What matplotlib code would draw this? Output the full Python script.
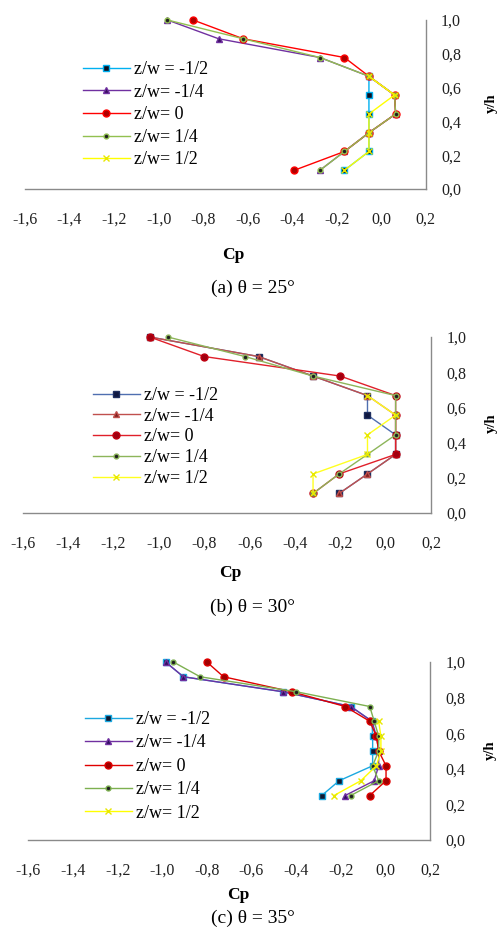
import numpy as np
import matplotlib
matplotlib.use("Agg")
import matplotlib.pyplot as plt

plt.rcParams['font.family'] = ['Liberation Serif', 'DejaVu Serif']

nan = np.nan
labels = ["z/w = -1/2", "z/w= -1/4", "z/w= 0", "z/w= 1/4", "z/w= 1/2"]
xticks = [-1.6, -1.4, -1.2, -1.0, -0.8, -0.6, -0.4, -0.2, 0.0, 0.2]
yticks = [0.0, 0.2, 0.4, 0.6, 0.8, 1.0]

# y/h levels
levels_ab = [1.0, 0.889, 0.778, 0.667, 0.556, 0.444, 0.333, 0.222, 0.111]
levels_c = [1.0, 0.917, 0.833, 0.75, 0.667, 0.583, 0.5, 0.417, 0.333, 0.25]

# (a) theta = 25
a_m12 = [nan, nan, nan, -0.055, -0.055, -0.055, -0.055, -0.055, -0.165]
a_m14 = [-0.96, -0.73, -0.275, -0.055, 0.06, 0.065, -0.055, -0.165, -0.275]
a_0 = [-0.845, -0.62, -0.165, -0.055, 0.06, 0.065, -0.055, -0.165, -0.39]
a_14 = [-0.96, -0.62, -0.275, -0.055, 0.06, 0.065, -0.055, -0.165, -0.275]
a_12 = [nan, nan, nan, -0.055, 0.06, -0.055, -0.055, -0.055, -0.165]

# (b) theta = 30
b_m12 = [-1.04, -0.56, -0.32, -0.08, -0.08, 0.044, 0.044, -0.08, -0.205]
b_m14 = [-1.04, -0.56, -0.32, -0.08, 0.044, 0.044, 0.044, -0.08, -0.205]
b_0 = [-1.04, -0.80, -0.20, 0.044, 0.044, 0.044, 0.044, -0.205, -0.32]
b_14 = [-0.96, -0.62, -0.32, 0.044, 0.044, 0.044, -0.08, -0.205, -0.32]
b_12 = [nan, nan, nan, -0.08, 0.044, -0.08, -0.08, -0.32, -0.32]

# (c) theta = 35
c_m12 = [-0.985, -0.905, -0.46, -0.155, -0.06, -0.057, -0.057, -0.057, -0.207, -0.285]
c_m14 = [-0.985, -0.905, -0.46, -0.155, -0.06, -0.04, -0.03, -0.03, -0.05, -0.18]
c_0 = [-0.80, -0.725, -0.42, -0.18, -0.07, -0.04, -0.03, 0.003, 0.003, -0.07]
c_14 = [-0.95, -0.83, -0.40, -0.07, -0.05, -0.03, -0.03, -0.057, -0.03, -0.155]
c_12 = [nan, nan, nan, nan, -0.03, -0.02, -0.02, -0.04, -0.11, -0.23]

styles_a = [
    dict(color='#00B0F0', marker='s', mfc='#101020', mec='#00B0F0', ms=5),
    dict(color='#7030A0', marker='^', mfc='#3a1060', mec='#7030A0', ms=5),
    dict(color='#FF0000', marker='o', mfc='#B00000', mec='#FF0000', ms=5),
    dict(color='#92C050', marker='o', mfc='#202020', mec='#92C050', ms=3.5),
    dict(color='#FFFF00', marker='x', mfc='#FFFF00', mec='#E8E800', ms=5),
]
styles_b = [
    dict(color='#4F6FB0', marker='s', mfc='#101840', mec='#1F2F60', ms=5),
    dict(color='#C0504D', marker='^', mfc='#802020', mec='#C0504D', ms=5),
    dict(color='#E0202A', marker='o', mfc='#A00010', mec='#C00010', ms=5),
    dict(color='#8DB55A', marker='o', mfc='#202020', mec='#8DB55A', ms=3.5),
    dict(color='#FFFF20', marker='x', mfc='#FFFF20', mec='#E8E800', ms=5),
]
styles_c = [
    dict(color='#1BA8E0', marker='s', mfc='#101830', mec='#1BA8E0', ms=5),
    dict(color='#7030A0', marker='^', mfc='#301060', mec='#7030A0', ms=5),
    dict(color='#E00000', marker='o', mfc='#A00000', mec='#E00000', ms=5),
    dict(color='#7DB050', marker='o', mfc='#202020', mec='#7DB050', ms=3.5),
    dict(color='#FFFF00', marker='x', mfc='#FFFF00', mec='#E8E800', ms=5),
]

W, H = 499, 935
fig = plt.figure(figsize=(W / 100, H / 100), dpi=100)


def px(x0, y_top, x1, y_bot):
    return [x0 / W, 1 - y_bot / H, (x1 - x0) / W, (y_bot - y_top) / H]


panels = [
    dict(rect=px(25, 20, 425.7, 189), levels=levels_ab,
         series=[a_m12, a_m14, a_0, a_14, a_12], styles=styles_a,
         leg=(83, 61, 23.6), cp=(233, 255), yh=(491, 103), cap=(253, 288),
         capt="(a) θ = 25°"),
    dict(rect=px(22.7, 337, 431, 513), levels=levels_ab,
         series=[b_m12, b_m14, b_0, b_14, b_12], styles=styles_b,
         leg=(93, 387, 21.7), cp=(230, 573), yh=(491, 423), cap=(253, 607),
         capt="(b) θ = 30°"),
    dict(rect=px(28.3, 662, 430, 840), levels=levels_c,
         series=[c_m12, c_m14, c_0, c_14, c_12], styles=styles_c,
         leg=(85, 711, 24.4), cp=(238, 895), yh=(490, 750), cap=(253, 918),
         capt="(c) θ = 35°"),
]

for p in panels:
    ax = fig.add_axes(p['rect'])
    handles = []
    for vals, st, lab in zip(p['series'], p['styles'], labels):
        h, = ax.plot(vals, p['levels'], color=st['color'], lw=1.0,
                     marker=st['marker'], markerfacecolor=st['mfc'],
                     markeredgecolor=st['mec'], markersize=st['ms'],
                     markeredgewidth=1.0, clip_on=False, label=lab)
        handles.append(h)
    ax.set_xlim(-1.6, 0.2)
    ax.set_ylim(0, 1.0)
    ax.set_xticks(xticks)
    ax.set_xticklabels([f"{v:.1f}".replace('.', ',') for v in xticks])
    ax.set_yticks(yticks)
    ax.set_yticklabels([f"{v:.1f}".replace('.', ',') for v in yticks])
    ax.yaxis.tick_right()
    ax.tick_params(axis='x', length=0, pad=16, labelsize=11.5, colors='#202020')
    ax.tick_params(axis='y', length=0, pad=11, labelsize=11.5, colors='#202020')
    for s in ['top', 'left']:
        ax.spines[s].set_visible(False)
    for s in ['bottom', 'right']:
        ax.spines[s].set_color('#8a8a8a')
        ax.spines[s].set_linewidth(1.0)
    ax.patch.set_alpha(0)
    lx, ly, sp = p['leg']
    ax.legend(handles=handles, loc='upper left',
              bbox_to_anchor=(lx / W, 1 - ly / H), bbox_transform=fig.transFigure,
              frameon=False, fontsize=13, borderpad=0, borderaxespad=0,
              handlelength=2.6, handletextpad=0.2,
              labelspacing=(sp - 18) / 18.0)
    fig.text(p['cp'][0] / W, 1 - p['cp'][1] / H, "Cp", fontsize=12.5,
             fontweight='bold', ha='center', va='center')
    fig.text(p['yh'][0] / W, 1 - p['yh'][1] / H, "y/h", fontsize=10.5,
             fontweight='bold', ha='center', va='center', rotation=90)
    fig.text(p['cap'][0] / W, 1 - p['cap'][1] / H, p['capt'], fontsize=14,
             ha='center', va='center')

fig.savefig("out.png", dpi=100)
